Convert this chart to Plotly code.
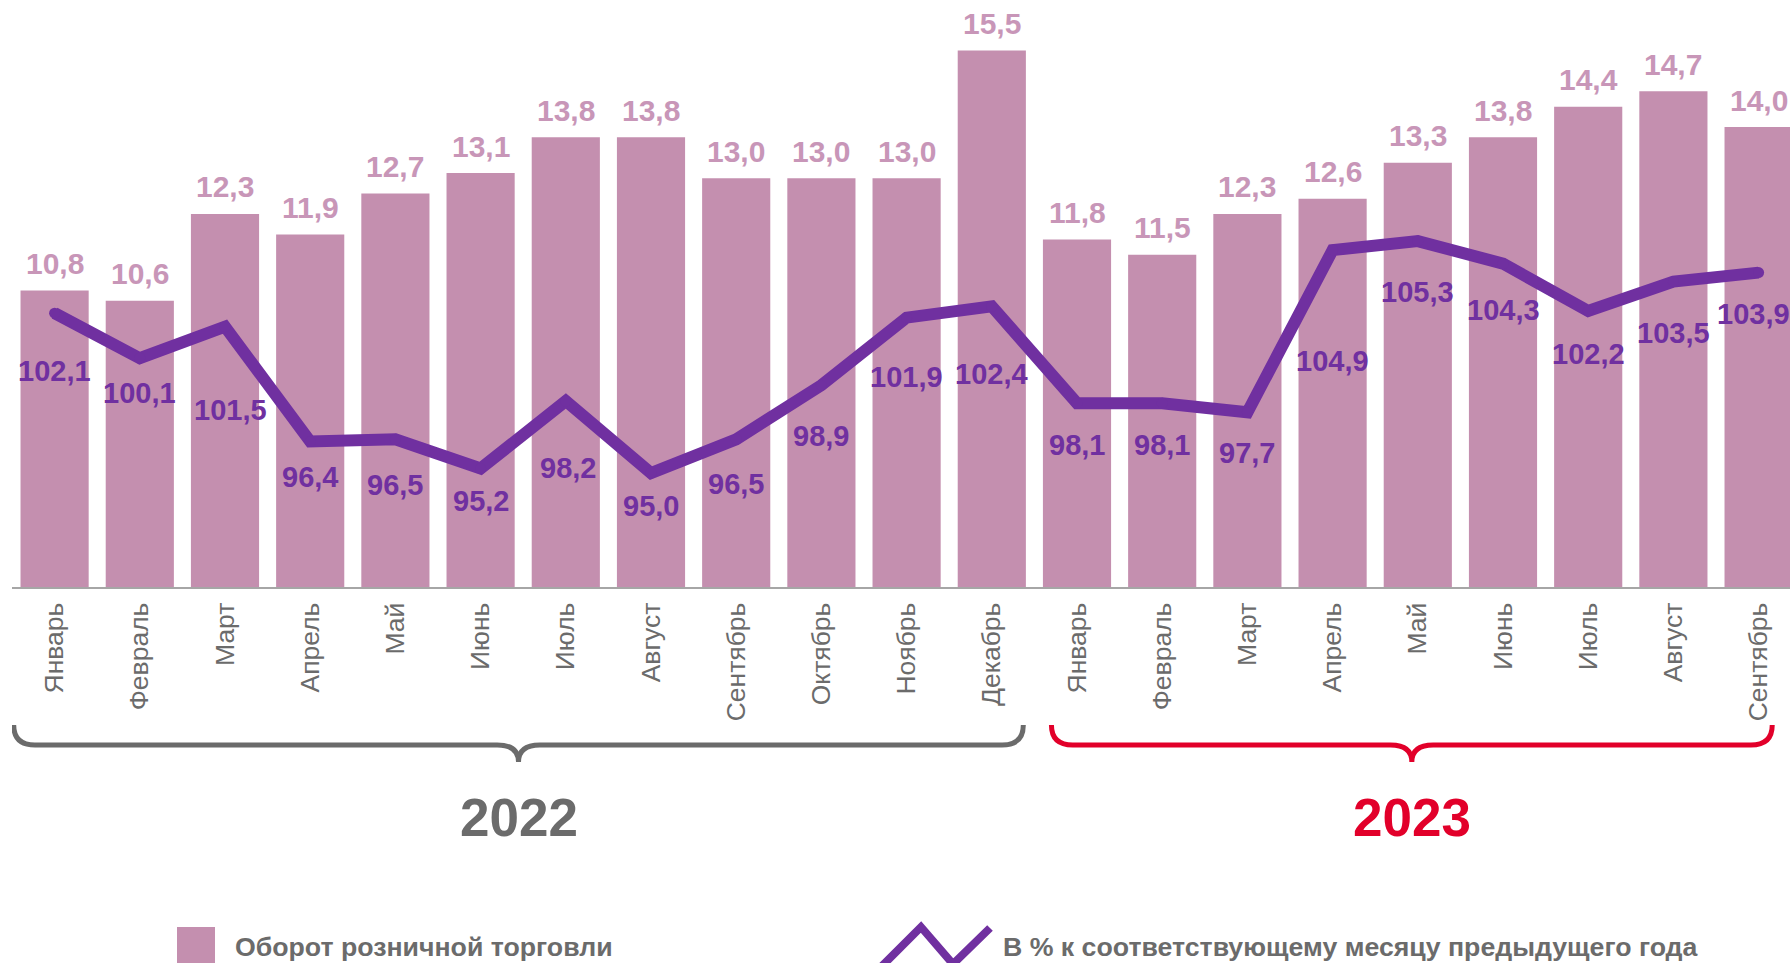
import plotly.graph_objects as go

# ---------------- data ----------------
months_2022 = ["Январь", "Февраль", "Март", "Апрель", "Май", "Июнь", "Июль",
               "Август", "Сентябрь", "Октябрь", "Ноябрь", "Декабрь"]
months_2023 = ["Январь", "Февраль", "Март", "Апрель", "Май", "Июнь", "Июль",
               "Август", "Сентябрь"]
turnover_2022 = [10.8, 10.6, 12.3, 11.9, 12.7, 13.1, 13.8, 13.8, 13.0, 13.0, 13.0, 15.5]
turnover_2023 = [11.8, 11.5, 12.3, 12.6, 13.3, 13.8, 14.4, 14.7, 14.0]
yoy_2022 = [102.1, 100.1, 101.5, 96.4, 96.5, 95.2, 98.2, 95.0, 96.5, 98.9, 101.9, 102.4]
yoy_2023 = [98.1, 98.1, 97.7, 104.9, 105.3, 104.3, 102.2, 103.5, 103.9]
years = ["2022", "2023"]
bar_name = "Оборот розничной торговли"
line_name = "В % к соответствующему месяцу предыдущего года"

# ---------------- styling ----------------
months = months_2022 + months_2023
turnover = turnover_2022 + turnover_2023
yoy = yoy_2022 + yoy_2023
xs = list(range(len(months)))

BAR_COLOR = "#C48FAF"
BAR_LABEL_COLOR = "#C896B8"
LINE_COLOR = "#7030A0"
GRAY = "#6B6B6B"
RED = "#E2002A"
FONT = "Arial, Liberation Sans, sans-serif"

W, H = 1790, 963
ML, MR, MT, MB = 12, 0, 0, 376
PW, PH = W - ML - MR, H - MT - MB

# label offsets (px below the line point) – purely cosmetic placement
line_label_dy = [58, 35, 83, 35, 46, 32, 67, 33, 45, 51, 59, 68,
                 42, 42, 41, 111, 51, 46, 43, 51, 41]
line_label_dx = [0, 0, 5, 0, 0, 0, 2, 0, 0, 0, 0, 0,
                 0, 0, 0, 0, 0, 0, 0, 0, -5]


def px(xp):
    return (xp - ML) / PW


def py(yp):
    return (MT + PH - yp) / PH


fig = go.Figure()
fig.add_trace(go.Bar(x=xs, y=turnover, marker=dict(color=BAR_COLOR, line=dict(width=0)),
                     width=0.8, showlegend=False, name=bar_name))
fig.add_trace(go.Scatter(x=xs, y=yoy, yaxis="y2", mode="lines+markers",
                         line=dict(color=LINE_COLOR, width=12),
                         marker=dict(color=LINE_COLOR, size=11, line=dict(width=0)),
                         showlegend=False, name=line_name))

ann = []
for i, v in enumerate(turnover):
    ann.append(dict(x=xs[i], y=v, xref="x", yref="y", text=f"{v:.1f}".replace(".", ","),
                    showarrow=False, yanchor="middle", yshift=27,
                    font=dict(family=FONT, size=30, color=BAR_LABEL_COLOR, weight="bold")))
for i, v in enumerate(yoy):
    ann.append(dict(x=xs[i], y=v, xref="x", yref="y2", text=f"{v:.1f}".replace(".", ","),
                    showarrow=False, yanchor="middle", yshift=-line_label_dy[i],
                    xshift=line_label_dx[i],
                    font=dict(family=FONT, size=29, color=LINE_COLOR, weight="bold")))

# year braces
n22 = len(months_2022)
groups = [
    (0 - 0.48, n22 - 1 + 0.37, GRAY, years[0]),
    (n22 - 0.30, len(months) - 1 + 0.16, RED, years[1]),
]
shapes = []
r = 0.25
ytop, yh, ytip = py(725), py(745), py(762)
for x0, x1, col, label in groups:
    xm = (x0 + x1) / 2
    path = (f"M {x0},{ytop} Q {x0},{yh} {x0 + r},{yh} L {xm - r},{yh} "
            f"Q {xm},{yh} {xm},{ytip} Q {xm},{yh} {xm + r},{yh} "
            f"L {x1 - r},{yh} Q {x1},{yh} {x1},{ytop}")
    shapes.append(dict(type="path", path=path, xref="x", yref="paper",
                       line=dict(color=col, width=5)))
    ann.append(dict(x=xm, y=py(817), xref="x", yref="paper", text=label, showarrow=False,
                    xanchor="center", yanchor="middle",
                    font=dict(family=FONT, size=53, color=col, weight="bold")))

# legend
shapes.append(dict(type="rect", xref="paper", yref="paper",
                   x0=px(177), x1=px(215), y0=py(927), y1=py(968),
                   fillcolor=BAR_COLOR, line=dict(width=0)))
zz = [(882, 966), (921, 927), (953, 964), (990, 928)]
zpath = "M " + " L ".join(f"{px(a)},{py(b)}" for a, b in zz)
shapes.append(dict(type="path", path=zpath, xref="paper", yref="paper",
                   line=dict(color=LINE_COLOR, width=8)))
ann.append(dict(x=px(233), y=py(947), xref="paper", yref="paper", text=bar_name,
                showarrow=False, xanchor="left", yanchor="middle",
                font=dict(family=FONT, size=26.7, color=GRAY, weight="bold")))
ann.append(dict(x=px(1001), y=py(947), xref="paper", yref="paper", text=line_name,
                showarrow=False, xanchor="left", yanchor="middle",
                font=dict(family=FONT, size=26.7, color=GRAY, weight="bold")))

fig.update_layout(
    width=W, height=H, margin=dict(l=ML, r=MR, t=MT, b=MB, pad=0),
    paper_bgcolor="white", plot_bgcolor="white",
    font=dict(family=FONT),
    xaxis=dict(range=[-0.5, -0.5 + PW / 85.2], tickmode="array", tickvals=xs, ticktext=months,
               tickangle=-90, tickfont=dict(family=FONT, size=26.5, color=GRAY),
               ticklabelstandoff=3,
               showline=True, linecolor="#A6A6A6", linewidth=2, showgrid=False,
               zeroline=False, ticks="", fixedrange=True),
    yaxis=dict(range=[5, 5 + PH / 51.1], visible=False, showgrid=False, zeroline=False),
    yaxis2=dict(range=[89.94, 89.94 + PH / 22.52], overlaying="y", visible=False,
                showgrid=False, zeroline=False),
    bargap=0.2,
    annotations=ann, shapes=shapes,
)

fig.write_html("out.html", include_plotlyjs=True, full_html=True,
               config=dict(displayModeBar=False),
               post_script="document.body.style.margin='0';document.body.style.overflow='hidden';")
